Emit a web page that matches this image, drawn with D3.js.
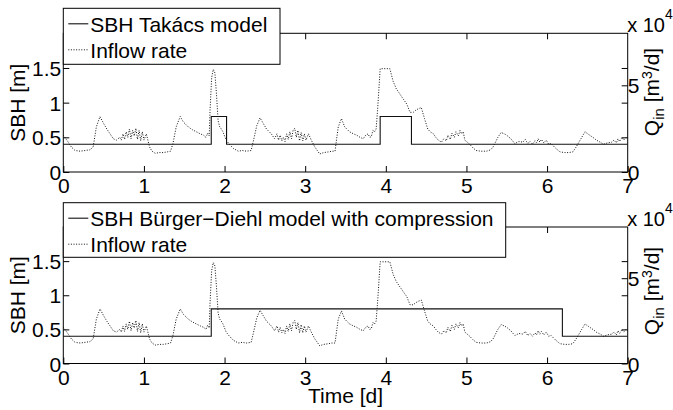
<!DOCTYPE html>
<html>
<head>
<meta charset="utf-8">
<script src="https://cdn.jsdelivr.net/npm/d3@7"></script>
<style>
  html, body { margin: 0; padding: 0; background: #fff; }
  svg { display: block; font-family: "Liberation Sans", Arial, Helvetica, sans-serif; }
</style>
</head>
<body>
<svg id="chart" width="673" height="410"></svg>
<script>
// Time axis [d] for the inflow record
const inflowDays = [
  0.00, 0.05, 0.10, 0.145, 0.21, 0.27, 0.33, 0.37, 0.41, 0.455, 0.50, 0.54, 0.58, 0.62, 0.66, 0.70,
  0.72, 0.74, 0.76, 0.78, 0.80, 0.82, 0.84, 0.86, 0.88, 0.90, 0.92, 0.94, 0.96, 0.98, 1.00, 1.03,
  1.07, 1.10, 1.14, 1.19, 1.24, 1.29, 1.33, 1.36, 1.40, 1.45, 1.49, 1.55, 1.60, 1.65, 1.70, 1.74,
  1.77, 1.79, 1.81, 1.82, 1.84, 1.86, 1.88, 1.90, 1.92, 1.94, 1.96, 1.98, 2.02, 2.06, 2.11, 2.17,
  2.22, 2.27, 2.33, 2.36, 2.40, 2.44, 2.48, 2.52, 2.58, 2.62,
  2.65, 2.67, 2.69, 2.71, 2.73, 2.75, 2.77, 2.79, 2.81, 2.83, 2.85, 2.87, 2.89, 2.91, 2.93, 2.95,
  2.97, 2.99, 3.01, 3.04, 3.08, 3.12, 3.18, 3.23, 3.29, 3.33, 3.37, 3.41, 3.45, 3.49, 3.55, 3.60,
  3.64, 3.68, 3.72, 3.75, 3.78, 3.80, 3.82, 3.84, 3.86, 3.88, 3.90, 3.93, 3.95, 4.05, 4.09, 4.13,
  4.20, 4.26, 4.30, 4.34, 4.37, 4.40, 4.44, 4.48, 4.52, 4.55, 4.59, 4.62, 4.65, 4.69, 4.72, 4.75,
  4.77, 4.80, 4.82, 4.85, 4.87, 4.90, 4.92, 4.94, 4.96, 4.98, 5.04, 5.08, 5.12, 5.18, 5.25, 5.30,
  5.33, 5.39, 5.43, 5.47, 5.50, 5.55, 5.60, 5.65, 5.70, 5.73, 5.76, 5.79, 5.82, 5.85, 5.87, 5.89,
  5.91, 5.93, 5.96, 5.99, 6.02, 6.05, 6.10, 6.16, 6.22, 6.27, 6.32, 6.36, 6.43, 6.47, 6.53, 6.58,
  6.61, 6.66, 6.70, 6.75, 6.80, 6.83, 6.86, 6.88, 6.90, 6.93, 6.95, 6.98, 7.00
];

// Inflow rate Q_in [x 10^4 m3/d]
const inflowRate = [
  2.12, 1.80, 1.44, 1.24, 1.20, 1.24, 1.28, 1.44, 2.60, 3.20, 2.80, 2.48, 2.20, 1.92, 1.84, 2.00,
  1.84, 2.20, 1.88, 2.32, 2.00, 2.48, 1.92, 2.40, 2.08, 2.52, 1.88, 2.40, 1.80, 2.32, 1.84, 2.20,
  1.44, 1.20, 1.08, 1.12, 1.12, 1.16, 1.20, 1.64, 2.60, 3.20, 2.88, 2.60, 2.44, 2.32, 2.20, 2.12,
  2.00, 2.24, 2.08, 3.56, 5.44, 5.92, 5.72, 4.48, 2.96, 2.60, 2.48, 2.32, 1.84, 1.60, 1.36, 1.20,
  1.24, 1.20, 1.24, 1.84, 2.68, 3.12, 2.80, 2.48, 2.20, 1.92,
  2.20, 1.84, 2.12, 1.80, 2.00, 1.76, 2.20, 1.88, 2.32, 1.92, 2.40, 2.52, 2.00, 2.40, 1.80, 2.28,
  1.80, 2.20, 1.84, 2.20, 1.80, 1.44, 1.04, 1.12, 1.16, 1.20, 1.20, 2.60, 3.08, 2.60, 2.32, 2.20,
  2.12, 2.00, 1.92, 2.12, 2.20, 2.00, 2.04, 2.40, 2.32, 2.48, 3.72, 5.96, 5.96, 5.96, 5.24, 4.80,
  4.32, 3.92, 3.44, 3.44, 3.56, 3.64, 3.72, 3.08, 2.48, 2.32, 2.20, 2.00, 1.84, 1.72, 1.92, 1.80,
  2.12, 1.88, 2.24, 2.00, 2.32, 2.08, 2.40, 2.20, 2.32, 1.84, 1.60, 1.40, 1.24, 1.20, 1.20, 1.28,
  1.44, 2.00, 2.28, 2.20, 2.12, 1.92, 1.64, 1.76, 1.72, 1.88, 1.64, 1.76, 1.60, 1.80, 1.68, 1.92,
  1.72, 1.88, 1.68, 1.84, 1.60, 1.64, 1.40, 1.16, 1.12, 1.12, 1.16, 1.44, 2.00, 2.32, 2.12, 1.96,
  1.84, 1.72, 1.60, 1.68, 1.72, 1.84, 1.68, 1.92, 1.76, 2.00, 1.84, 2.00, 1.92
];

// Sludge blanket height, piecewise constant: switch times [d] and levels [m]
const takacsTimes = [0, 1.835, 2.025, 3.93, 4.318, 7];
const takacsSBH   = [0.4, 0.8, 0.4, 0.8, 0.4, 0.4];
const burgerTimes = [0, 1.835, 6.19, 7];
const burgerSBH   = [0.4, 0.8, 0.4, 0.4];

// Axis ticks and labels
const xTicks = [0, 1, 2, 3, 4, 5, 6, 7];
const sbhTicks = [0, 0.5, 1, 1.5];
const sbhTickLabels = ["0", "0.5", "1", "1.5"];
const qTicks = [0, 5];
const qTickLabels = ["0", "5"];
const sbhDomain = [0, 2];
const qDomain = [0, 8];

const legendTitles = ["SBH Takács model", "SBH Bürger\u2212Diehl model with compression"];
const inflowLabel = "Inflow rate";

const svg = d3.select("#chart");
const FS = 21;
const left = 63.3, right = 627.7;

const panels = [
  { top: 33.3, bottom: 172, legend: { x: 63.3, y: 8.3, w: 216.7, h: 56 }, qLabelY: 92,
    times: takacsTimes, sbh: takacsSBH, title: legendTitles[0] },
  { top: 227, bottom: 363.5, legend: { x: 63.3, y: 202.7, w: 442.4, h: 54.6 }, qLabelY: 291,
    times: burgerTimes, sbh: burgerSBH, title: legendTitles[1] }
];

const x = d3.scaleLinear().domain([0, 7]).range([left, right]);

panels.forEach((p, i) => {
  const yL = d3.scaleLinear().domain(sbhDomain).range([p.bottom, p.top]);
  const yR = d3.scaleLinear().domain(qDomain).range([p.bottom, p.top]);
  const g = svg.append("g");

  const clipId = "clip" + i;
  svg.append("clipPath").attr("id", clipId).append("rect")
    .attr("x", left).attr("y", p.top).attr("width", right - left).attr("height", p.bottom - p.top);

  // Inflow rate (right axis)
  const inflowLine = d3.line().x((d, k) => x(inflowDays[k])).y(d => yR(d));
  g.append("path")
    .attr("clip-path", `url(#${clipId})`)
    .attr("d", inflowLine(inflowRate))
    .attr("fill", "none").attr("stroke", "#111").attr("stroke-width", 1)
    .attr("stroke-dasharray", "1,1.6");

  // Sludge blanket height (left axis)
  const sbhLine = d3.line().curve(d3.curveStepAfter).x((d, k) => x(p.times[k])).y(d => yL(d));
  g.append("path")
    .attr("clip-path", `url(#${clipId})`)
    .attr("d", sbhLine(p.sbh))
    .attr("fill", "none").attr("stroke", "#111").attr("stroke-width", 1.1);

  // Axes frame
  g.append("rect")
    .attr("x", left).attr("y", p.top).attr("width", right - left).attr("height", p.bottom - p.top)
    .attr("fill", "none").attr("stroke", "#000").attr("stroke-width", 1);

  const tk = 6;
  // x ticks, inward at bottom and top
  const xAxisB = d3.axisBottom(x).tickValues(xTicks).tickSize(-tk).tickSizeOuter(0).tickFormat(d3.format("d")).tickPadding(tk + 6);
  const gxb = g.append("g").attr("transform", `translate(0,${p.bottom})`).call(xAxisB);
  gxb.select(".domain").remove();
  gxb.selectAll("text").attr("font-size", FS).attr("fill", "#000").attr("dy", null)
    .attr("y", 21).attr("font-family", null);
  gxb.selectAll("line").attr("stroke", "#000");

  const xAxisT = d3.axisTop(x).tickValues(xTicks.slice(1, -1)).tickSize(-tk).tickSizeOuter(0).tickFormat("");
  const gxt = g.append("g").attr("transform", `translate(0,${p.top})`).call(xAxisT);
  gxt.select(".domain").remove();
  gxt.selectAll("line").attr("stroke", "#000");

  // left SBH axis
  const yAxisL = d3.axisLeft(yL).tickValues(sbhTicks).tickSize(-tk).tickSizeOuter(0)
    .tickFormat((d, k) => sbhTickLabels[k]).tickPadding(tk + 2);
  const gyl = g.append("g").attr("transform", `translate(${left},0)`).call(yAxisL);
  gyl.select(".domain").remove();
  gyl.selectAll("text").attr("font-size", FS).attr("fill", "#000").attr("font-family", null)
    .attr("x", -2).attr("dy", "0.36em");
  gyl.selectAll("line").attr("stroke", "#000");

  // mirrored SBH ticks on the right side
  const yAxisM = d3.axisRight(yL).tickValues(sbhTicks.slice(1)).tickSize(-tk).tickSizeOuter(0).tickFormat("");
  const gym = g.append("g").attr("transform", `translate(${right},0)`).call(yAxisM);
  gym.select(".domain").remove();
  gym.selectAll("line").attr("stroke", "#000");

  // right inflow axis
  const yAxisR = d3.axisRight(yR).tickValues(qTicks).tickSize(-tk).tickSizeOuter(0)
    .tickFormat((d, k) => qTickLabels[k]);
  const gyr = g.append("g").attr("transform", `translate(${right},0)`).call(yAxisR);
  gyr.select(".domain").remove();
  gyr.selectAll("text").attr("font-size", FS).attr("fill", "#000").attr("font-family", null)
    .attr("x", 0).attr("dy", "0.36em");
  gyr.selectAll("line").attr("stroke", "#000");

  // exponent note
  const ex = g.append("text").attr("x", right - 0.5).attr("y", p.top - 1.5).attr("font-size", 20).attr("fill", "#000");
  ex.append("tspan").text("x 10");
  ex.append("tspan").attr("font-size", 14).attr("dy", -13).text("4");

  // y labels
  g.append("text")
    .attr("transform", `translate(25,${(p.top + p.bottom) / 2}) rotate(-90)`)
    .attr("text-anchor", "middle").attr("font-size", FS).attr("fill", "#000")
    .text("SBH [m]");

  const ql = g.append("text")
    .attr("transform", `translate(659,${p.qLabelY}) rotate(-90)`)
    .attr("text-anchor", "middle").attr("font-size", FS).attr("fill", "#000");
  ql.append("tspan").text("Q");
  ql.append("tspan").attr("font-size", 15).attr("dy", 5).text("in");
  ql.append("tspan").attr("dy", -5).text(" [m");
  ql.append("tspan").attr("font-size", 14).attr("dy", -7).text("3");
  ql.append("tspan").attr("dy", 7).text("/d]");

  // legend
  const L = p.legend;
  const lg = g.append("g");
  lg.append("rect").attr("x", L.x).attr("y", L.y).attr("width", L.w).attr("height", L.h)
    .attr("fill", "#fff").attr("stroke", "#000").attr("stroke-width", 1);
  const row1 = L.y + 15.5, row2 = L.y + 41.5;
  lg.append("line").attr("x1", L.x + 5).attr("x2", L.x + 25).attr("y1", row1).attr("y2", row1)
    .attr("stroke", "#111").attr("stroke-width", 1.1);
  lg.append("text").attr("x", L.x + 27).attr("y", row1 + 7.8).attr("font-size", FS).attr("fill", "#000").text(p.title);
  lg.append("line").attr("x1", L.x + 5).attr("x2", L.x + 25).attr("y1", row2).attr("y2", row2)
    .attr("stroke", "#111").attr("stroke-width", 1).attr("stroke-dasharray", "1,1.6");
  lg.append("text").attr("x", L.x + 27).attr("y", row2 + 7.8).attr("font-size", FS).attr("fill", "#000").text(inflowLabel);
});

svg.append("text").attr("x", (left + right) / 2).attr("y", 403).attr("text-anchor", "middle")
  .attr("font-size", FS).attr("fill", "#000").text("Time [d]");
</script>
</body>
</html>
